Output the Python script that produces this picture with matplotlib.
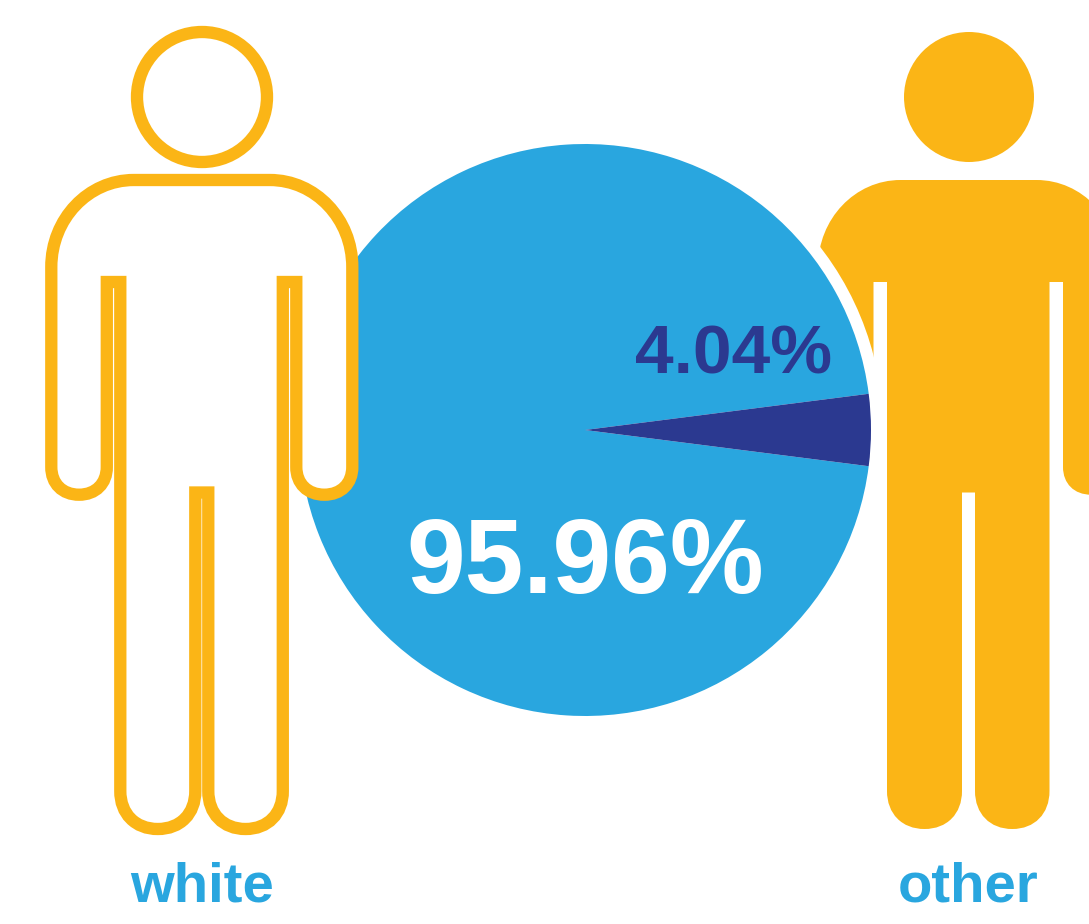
import matplotlib
matplotlib.use('Agg')
import matplotlib.pyplot as plt
from matplotlib.path import Path
from matplotlib.patches import PathPatch, Circle

categories = ['white', 'other']
shares = [95.96, 4.04]
pieColors = ['#29A6DF', '#2B3990']

YELLOW = '#FBB516'
KAPPA = 0.5523
END_KAPPA = 0.6  # hands and feet are a bit squarer than a true ellipse

plt.rcParams['font.family'] = ['Liberation Sans', 'DejaVu Sans']


def quarter(x0, y0, x1, y1, horizontalFirst, k=KAPPA):
    # one bezier quarter from (x0, y0) to (x1, y1)
    if horizontalFirst:
        c1 = (x0 + (x1 - x0) * k, y0)
        c2 = (x1, y1 - (y1 - y0) * k)
    else:
        c1 = (x0, y0 + (y1 - y0) * k)
        c2 = (x1 - (x1 - x0) * k, y1)
    return [c1, c2, (x1, y1)]


def makePerson(cx):
    # icon outline in pixels, offsets from the centre line of the figure
    armBottom = 494.7
    armArc = 467
    footBottom = 829
    footArc = 791
    verts = [(-95, 282), (-95, armArc)]
    codes = [Path.MOVETO, Path.LINETO]

    def line(x, y):
        verts.append((x, y))
        codes.append(Path.LINETO)

    def curve(pts):
        verts.extend(pts)
        codes.extend([Path.CURVE4] * 3)

    def uTurn(xa, xb, yArc, yBottom):
        mid = (xa + xb) / 2
        curve(quarter(xa, yArc, mid, yBottom, False, END_KAPPA))
        curve(quarter(mid, yBottom, xb, yArc, True, END_KAPPA))

    uTurn(-95, -150.5, armArc, armBottom)
    line(-150.5, 267)
    curve(quarter(-150.5, 267, -68, 180, False))
    line(68, 180)
    curve(quarter(68, 180, 150.5, 267, True))
    line(150.5, armArc)
    uTurn(150.5, 94.5, armArc, armBottom)
    line(94.5, 282)
    line(81, 282)
    line(81, footArc)
    uTurn(81, 6.5, footArc, footBottom)
    line(6.5, 492.5)
    line(-6.5, 492.5)
    line(-6.5, footArc)
    uTurn(-6.5, -81.5, footArc, footBottom)
    line(-81.5, 282)
    verts.append((-95, 282))
    codes.append(Path.CLOSEPOLY)
    return Path([(cx + x, y) for x, y in verts], codes)


fig = plt.figure(figsize=(10.89, 9.24), dpi=100, facecolor='white')
ax = fig.add_axes([0, 0, 1, 1])

strokeWidth = 12.3 * 0.72

# filled figure sits behind the pie, a white ring cuts it away
ax.add_patch(PathPatch(makePerson(968.5), facecolor=YELLOW, edgecolor='none', zorder=1))
ax.add_patch(Circle((969, 97), 65, facecolor=YELLOW, edgecolor='none', zorder=1))
ax.add_patch(Circle((585, 430), 298, facecolor='white', edgecolor='none', zorder=2))

wedges, _ = ax.pie(shares, colors=pieColors, center=(585, 430), radius=286,
                   startangle=shares[1] * 360 / 100 / 2, wedgeprops={'linewidth': 0})
for w in wedges:
    w.set_zorder(3)

ax.add_patch(PathPatch(makePerson(201.8), facecolor='white', edgecolor=YELLOW,
                       linewidth=strokeWidth, joinstyle='miter', zorder=4))
ax.add_patch(Circle((202, 97), 65, facecolor='white', edgecolor=YELLOW,
                    linewidth=strokeWidth, zorder=4))

ax.text(585.5, 593, f'{shares[0]:.2f}%', color='white', fontsize=76, fontweight='bold',
        ha='center', va='baseline', zorder=5)
ax.text(733.5, 374, f'{shares[1]:.2f}%', color=pieColors[1], fontsize=50, fontweight='bold',
        ha='center', va='baseline', zorder=5)
ax.text(202, 902, categories[0], color=pieColors[0], fontsize=40.5, fontweight='bold',
        ha='center', va='baseline', zorder=5)
ax.text(968.5, 902, categories[1], color=pieColors[0], fontsize=40.5, fontweight='bold',
        ha='center', va='baseline', zorder=5)

ax.set_xlim(0, 1089)
ax.set_ylim(924, 0)
ax.set_aspect('auto')
ax.axis('off')

fig.savefig('out.png', dpi=100, facecolor='white')
